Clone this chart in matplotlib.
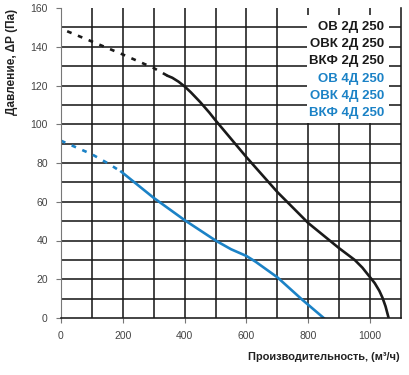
import matplotlib
matplotlib.use('Agg')
from matplotlib import pyplot as plt
from matplotlib.patches import Rectangle
import numpy as np

plt.rcParams['font.family'] = ['Liberation Sans', 'DejaVu Sans']

# 2Д curve (black): dashed part and solid part
x_2d_dash = [20, 100, 200, 300, 345]
y_2d_dash = [148, 142.7, 136, 129, 125]
x_2d = [345, 360, 380, 400, 420, 450, 480, 500, 600, 700, 800, 850, 900,
        925, 950, 975, 1000, 1015, 1030, 1040, 1050, 1060]
y_2d = [125, 124, 122, 119.5, 116.5, 111.5, 106, 102, 83, 65, 49, 42.5, 36,
        33, 30, 26, 21, 18, 14, 10.5, 6, 0]

# 4Д curve (blue)
x_4d_dash = [0, 50, 100, 150, 195]
y_4d_dash = [91.5, 88, 84.5, 80, 75.5]
x_4d = [195, 300, 400, 500, 550, 600, 630, 700, 780, 850]
y_4d = [75.5, 62, 50.5, 40, 35.5, 32, 29, 21, 9.5, 0]

labels_2d = ['ОВ 2Д 250', 'ОВК 2Д 250', 'ВКФ 2Д 250']
labels_4d = ['ОВ 4Д 250', 'ОВК 4Д 250', 'ВКФ 4Д 250']

black = '#1a1a1a'
blue = '#1b82c6'

fig = plt.figure(figsize=(4.09, 3.75), dpi=100)
ax = fig.add_axes([61/409, 1-318/375, 340/409, 310/375])

ax.set_xlim(0, 1100)
ax.set_ylim(0, 160)
ax.set_xticks(np.arange(0, 1001, 200))
ax.set_yticks(np.arange(0, 161, 20))

# grid: every 100 along x, every 10 along y (no line on top edge)
for gx in np.arange(100, 1001, 100):
    ax.axvline(gx, color=black, lw=1.15, zorder=1)
for gy in np.arange(10, 151, 10):
    ax.axhline(gy, color=black, lw=1.15, zorder=1)

ax.spines['top'].set_visible(False)
ax.spines['left'].set_color('#777777')
ax.spines['left'].set_linewidth(0.8)
ax.spines['bottom'].set_color(black)
ax.spines['bottom'].set_linewidth(1.15)
ax.spines['right'].set_color(black)
ax.spines['right'].set_linewidth(1.15)

ax.tick_params(length=3.5, width=0.8, color='#777777',
               labelsize=7.5, labelcolor='#444444', pad=6)

dash = (0, (1.8, 2.6))
ax.plot(x_2d_dash, y_2d_dash, color=black, lw=1.9, linestyle=dash, zorder=2)
ax.plot(x_2d, y_2d, color=black, lw=1.9, zorder=2, solid_joinstyle='round')
ax.plot(x_4d_dash, y_4d_dash, color=blue, lw=1.9, linestyle=dash, zorder=2)
ax.plot(x_4d, y_4d, color=blue, lw=1.9, zorder=2, solid_joinstyle='round')

# legend block (white box covering the grid)
ax.add_patch(Rectangle((796, 100.5), 266, 56, facecolor='white',
                       edgecolor='none', zorder=2.5))
ypos = 150.3
for lab in labels_2d:
    ax.text(1046, ypos, lab, ha='right', va='center', fontsize=9.5,
            fontweight='bold', color=black, zorder=3)
    ypos -= 8.9
for lab in labels_4d:
    ax.text(1046, ypos, lab, ha='right', va='center', fontsize=9.5,
            fontweight='bold', color=blue, zorder=3)
    ypos -= 8.9

fig.text(12/409, 1-9/375, 'Давление, ΔР (Па)', rotation=90, ha='center',
         va='top', fontsize=8.5, fontweight='bold', color='#222222')
fig.text(400/409, 1-357/375, 'Производительность, (м³/ч)', ha='right',
         va='center', fontsize=7.9, fontweight='bold', color='#222222')

fig.savefig('out.png', dpi=100)
